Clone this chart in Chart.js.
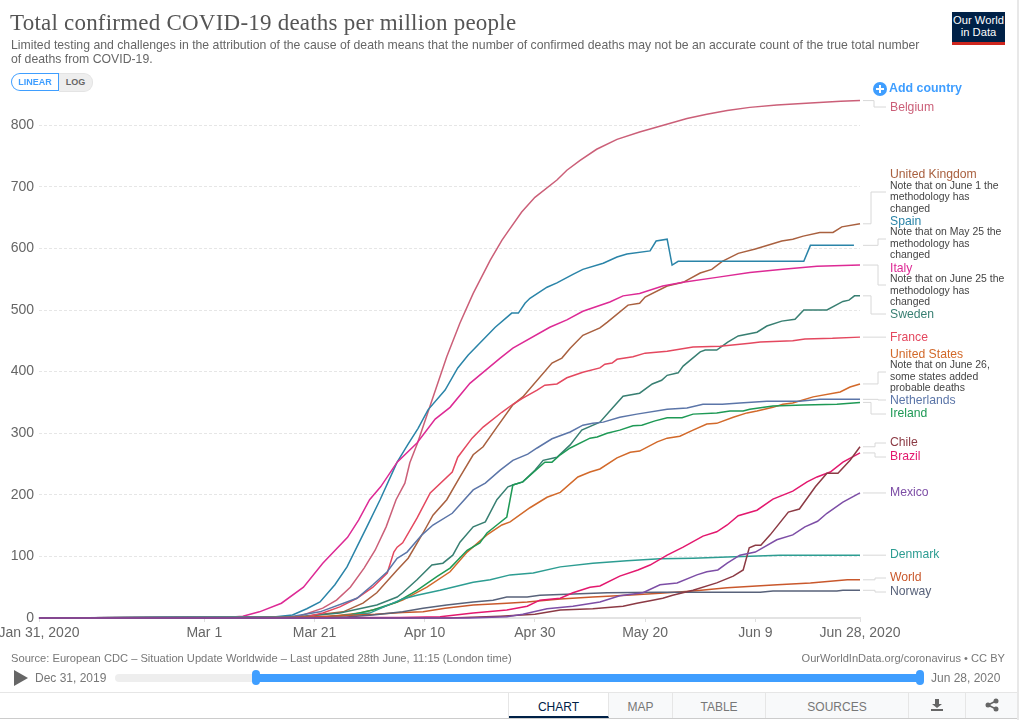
<!DOCTYPE html>
<html>
<head>
<meta charset="utf-8">
<title>Total confirmed COVID-19 deaths per million people</title>
<script src="https://cdn.jsdelivr.net/npm/chart.js@4"></script>
<style>
    html, body { margin: 0; padding: 0; background: #fff; }
    #page { position: relative; width: 1019px; height: 720px; overflow: hidden; font-family: "Liberation Sans", Arial, sans-serif; color: #666; }
    #page > div, #page > svg { position: absolute; white-space: nowrap; }
    canvas { position: absolute; left: 0; top: 0; }
    #title { left: 10px; top: 8px; font: 23px/30px "Liberation Serif", serif; color: #555; letter-spacing: 0.22px; }
    .subtitle { left: 11px; font-size: 12.26px; line-height: 14px; color: #666; }
    #logo { left: 952px; top: 12px; width: 53px; background: #002147; border-bottom: 3px solid #ce261e; color: #fff; font-size: 11.2px; line-height: 11.5px; text-align: center; padding-top: 3px; height: 27px; white-space: normal; }
    #btnLinear { left: 11px; top: 73px; width: 46px; height: 16px; border: 1px solid #3f9eff; border-right-width: 2px; border-radius: 9px 0 0 9px; color: #3f9eff; font-size: 9px; font-weight: bold; line-height: 17px; text-align: center; }
    #btnLog { left: 59px; top: 73px; width: 33px; height: 17px; background: #eee; border: 1px solid #e4e4e4; border-left: 0; border-radius: 0 9px 9px 0; font-size: 9px; font-weight: bold; line-height: 17px; text-align: center; color: #666; }
    #addCountry { left: 889px; top: 81px; color: #3f9eff; font-size: 12.4px; font-weight: bold; line-height: 15px; }
    .seriesLabel { font-size: 12.2px; line-height: 14px; transform: translateY(-50%); }
    .seriesNote { font-size: 10.45px; line-height: 11.6px; color: #444; transform: translateY(-50%); }
    #source { left: 11px; top: 651px; font-size: 11.15px; line-height: 14px; color: #777; }
    #license { right: 14px; top: 651px; font-size: 11.1px; line-height: 14px; color: #777; }
    .timeLabel { top: 671px; font-size: 12px; line-height: 14px; color: #777; }
    #track { left: 115px; top: 674px; width: 805px; height: 8px; border-radius: 4px; background: #eee; }
    #trackOn { left: 256px; top: 674px; width: 664px; height: 8px; background: #3f9eff; }
    .handle { top: 670px; width: 8px; height: 15px; border-radius: 4px; background: #3f9eff; }
    #tabs { left: 0; top: 692px; width: 1019px; height: 26px; border-bottom: 1px solid #ccc; }
    .tab { position: absolute; top: 0; height: 26px; box-sizing: border-box; background: #f8f9fa; border: 1px solid #e6e6e6; border-bottom: 0; border-left: 0; font-size: 12px; line-height: 28px; text-align: center; color: #777; }
    #edge { left: 1017px; top: 0; width: 2px; height: 720px; background: #e8e8e8; }
</style>
</head>
<body>
<div id="page">
    <canvas id="deathsChart" width="1019" height="720"></canvas>
    <div id="title">Total confirmed COVID-19 deaths per million people</div>
    <div class="subtitle" style="top:38px">Limited testing and challenges in the attribution of the cause of death means that the number of confirmed deaths may not be an accurate count of the true total number</div>
    <div class="subtitle" style="top:52px">of deaths from COVID-19.</div>
    <div id="logo">Our World<br>in Data</div>
    <div id="btnLinear">LINEAR</div>
    <div id="btnLog">LOG</div>
    <svg style="left:873px;top:82px" width="14" height="14" viewBox="0 0 14 14"><circle cx="7" cy="7" r="7" fill="#3f9eff"/><path d="M7 3v8M3 7h8" stroke="#fff" stroke-width="2"/></svg>
    <div id="addCountry">Add country</div>
    <div id="source">Source: European CDC – Situation Update Worldwide – Last updated 28th June, 11:15 (London time)</div>
    <div id="license">OurWorldInData.org/coronavirus • CC BY</div>
    <svg style="left:14px;top:670px" width="14" height="16" viewBox="0 0 14 16"><path d="M0 0L14 8L0 16Z" fill="#666"/></svg>
    <div class="timeLabel" style="left:35px">Dec 31, 2019</div>
    <div class="timeLabel" style="left:931px">Jun 28, 2020</div>
    <div id="track"></div>
    <div id="trackOn"></div>
    <div class="handle" style="left:252px"></div>
    <div class="handle" style="left:916px"></div>
    <div id="tabs">
        <div class="tab" style="left:0;width:509px;background:#fff;border-right:1px solid #e6e6e6"></div>
        <div class="tab" style="left:509px;width:100px;background:#fff;color:#002147;border-bottom:2px solid #002147;border-right:1px solid #e6e6e6">CHART</div>
        <div class="tab" style="left:609px;width:64px">MAP</div>
        <div class="tab" style="left:673px;width:93px">TABLE</div>
        <div class="tab" style="left:766px;width:143px">SOURCES</div>
        <div class="tab" style="left:909px;width:57px"><svg width="14" height="14" viewBox="0 0 14 14" style="margin-top:5px"><path d="M5 1h4v5h3L7 10 2 6h3zM1 11h12v2H1z" fill="#666"/></svg></div>
        <div class="tab" style="left:966px;width:53px"><svg width="14" height="14" viewBox="0 0 14 14" style="margin-top:5px"><path d="M3 7L11 3M3 7l8 4" stroke="#666" stroke-width="1.5"/><circle cx="3" cy="7" r="2.5" fill="#666"/><circle cx="11" cy="3" r="2.5" fill="#666"/><circle cx="11" cy="11" r="2.5" fill="#666"/></svg></div>
    </div>
    <div id="edge"></div>
</div>

<script>
// Days are counted from Jan 31, 2020 on the time axis
const xTickDays = [0, 30, 50, 70, 90, 110, 130, 149];
const xTickLabels = ["Jan 31, 2020", "Mar 1", "Mar 21", "Apr 10", "Apr 30", "May 20", "Jun 9", "Jun 28, 2020"];
const yTickValues = [0, 100, 200, 300, 400, 500, 600, 700, 800];

const belgiumDays = [0, 47, 51.5, 54, 56.5, 59, 61, 63, 64.8, 66.4, 67.3, 68.7, 71, 74, 76.4, 78.8, 81.9, 84, 85, 87.6, 90, 94, 95.8, 98.2, 101.2, 104.9, 109, 113.3, 117.6, 121.2, 124.9, 129, 133.9, 140, 145.5, 149];
const belgiumValues = [0, 2, 16, 29, 50, 81, 110, 148, 192, 219, 252, 284, 345, 424, 479, 527, 581, 613, 626, 659, 683, 711, 727, 743, 761, 777, 789, 800, 811, 818, 824, 829, 833, 836, 839, 840];

const ukDays = [0, 47.4, 55.2, 58.8, 61.3, 65, 67, 69.7, 71.5, 74, 76.4, 78.8, 80.6, 83.1, 86, 87.8, 93.1, 94.9, 96.4, 98.7, 101.8, 103.1, 106.9, 109, 110, 114, 116.9, 120, 122.1, 124, 126.9, 130, 134.8, 136.8, 138.7, 141.7, 144.1, 145.7, 149];
const ukValues = [0, 2, 10, 24, 41, 78, 97, 138, 167, 192, 229, 265, 278, 310, 346, 359, 414, 422, 438, 459, 471, 480, 508, 511, 521, 539, 545, 560, 566, 579, 592, 599, 612, 615, 620, 626, 626, 635, 640];

const spainDays = [0, 43, 46, 48.6, 51, 53.7, 55.9, 59.5, 61.9, 65, 66.9, 68.8, 70.6, 73.7, 76, 77.9, 82.8, 85.8, 87, 88.2, 89.1, 92.2, 94, 96.9, 98.7, 102.4, 104.9, 106.7, 110.9, 112, 114, 114.9, 116, 138.8, 140, 147.9];
const spainValues = [0, 2, 5, 15, 26, 54, 83, 148, 192, 253, 281, 308, 338, 370, 406, 427, 472, 495, 495, 511, 519, 537, 544, 558, 566, 576, 586, 591, 596, 612, 615, 573, 579, 579, 605, 605];

const italyDays = [0, 27, 33.8, 37, 40, 44, 48, 51.5, 56, 58, 60, 62, 65, 68.6, 71.9, 74.6, 78.2, 83.7, 86, 92.7, 95.8, 98.7, 103.6, 106, 109, 113.2, 116.9, 123, 129, 135, 141.2, 149];
const italyValues = [0, 0, 1, 3, 10, 24, 50, 89, 131, 159, 192, 213, 253, 284, 323, 342, 381, 422, 438, 472, 484, 498, 513, 523, 527, 539, 545, 553, 561, 566, 571, 573];

const swedenDays = [0, 47.4, 54.6, 61.3, 65, 66, 68.6, 71.3, 73.3, 75.1, 76.4, 78.8, 81, 83.1, 85.1, 86, 87.8, 90, 91.5, 94, 96.4, 98.5, 101.8, 104.2, 106, 109, 111.3, 113, 114, 116, 116.9, 120, 120.9, 123, 125, 126.9, 130.3, 132.1, 134.8, 137.2, 138.8, 143, 145.9, 147, 148, 149];
const swedenValues = [0, 2, 8, 21, 34, 41, 62, 86, 89, 102, 123, 148, 156, 192, 213, 216, 221, 240, 256, 261, 281, 305, 318, 342, 360, 365, 380, 386, 394, 398, 409, 432, 435, 435, 448, 458, 464, 474, 482, 485, 500, 500, 514, 516, 523, 523];

const franceDays = [0, 48.6, 51.5, 54.6, 57.7, 60.6, 63.2, 64.4, 65, 66, 68.6, 71, 75, 76, 78.6, 80.6, 84, 86, 87.8, 90.4, 91.8, 94, 95.8, 98.7, 101.8, 102.7, 104, 104.9, 107.8, 110, 114, 118.7, 123.6, 129, 130.9, 136.8, 139, 144, 149];
const franceValues = [0, 2, 8, 18, 32, 50, 73, 107, 115, 122, 162, 203, 237, 261, 292, 310, 334, 347, 357, 370, 378, 380, 390, 399, 406, 412, 414, 420, 424, 430, 433, 440, 441, 446, 448, 450, 453, 454, 456];

const usDays = [0, 51, 58.3, 61.9, 66, 70.4, 74.6, 77.7, 81.3, 84, 85.5, 89.1, 92.2, 94.6, 97.8, 100, 101.8, 104.9, 107.3, 109, 112.2, 114, 116.3, 118.7, 121.2, 123, 126, 128.5, 130.3, 133.2, 135, 136.8, 140.5, 145.4, 147.2, 149];
const usValues = [0, 1, 8, 16, 29, 50, 75, 107, 135, 151, 156, 179, 196, 204, 229, 237, 242, 260, 269, 271, 286, 292, 295, 305, 315, 316, 326, 333, 336, 342, 347, 349, 359, 367, 375, 380];

const netherlandsDays = [0, 45.6, 51, 57.7, 60.6, 63.2, 65, 66.8, 69.5, 71.5, 75, 78.8, 81, 83.7, 86, 88.7, 90.4, 93.1, 96.4, 98.7, 100.5, 102.4, 105.4, 108.5, 114, 117.6, 120.5, 124, 127.2, 132.1, 138, 141.7, 149];
const netherlandsValues = [0, 2, 10, 32, 54, 75, 97, 107, 135, 151, 170, 208, 219, 240, 256, 266, 276, 291, 302, 313, 316, 318, 326, 331, 339, 341, 347, 347, 349, 352, 352, 355, 355];

const irelandDays = [0, 51, 56.4, 60.6, 65, 68.6, 72.2, 74.6, 77.7, 80, 81.3, 83.1, 84.9, 86, 87.8, 91.8, 93.1, 94.6, 96.4, 100, 101.3, 103.1, 105.4, 107.8, 109.4, 111.8, 114, 116.7, 118.7, 123, 125.4, 127.8, 129, 133.2, 138.7, 144.8, 149];
const irelandValues = [0, 1, 5, 13, 26, 45, 67, 81, 110, 122, 138, 151, 164, 216, 221, 253, 253, 265, 276, 292, 294, 300, 305, 312, 313, 320, 325, 325, 331, 333, 336, 336, 339, 344, 346, 347, 350];

const chileDays = [0, 74.6, 83.7, 90, 94.6, 100.5, 106, 108.5, 110.9, 113.2, 115, 118.7, 123, 126, 127.8, 128.9, 130, 131, 132.7, 136, 138, 140.9, 143, 145, 147.2, 149];
const chileValues = [0, 0, 3, 6, 13, 15, 19, 24, 28, 32, 37, 45, 57, 68, 78, 114, 118, 118, 135, 172, 177, 213, 235, 235, 256, 278];

const brazilDays = [0, 65.5, 72.8, 78.8, 84.9, 88.6, 90.9, 94.6, 96.9, 100, 101.8, 105.4, 108.7, 110.9, 114, 116.9, 120.5, 123, 124.9, 126.9, 130.3, 133.2, 136.8, 139.4, 141.2, 143.6, 145.9, 149];
const brazilValues = [0, 1, 2, 8, 13, 19, 29, 32, 41, 50, 52, 68, 78, 86, 102, 115, 133, 140, 151, 166, 175, 193, 206, 221, 229, 237, 253, 268];

const mexicoDays = [0, 78, 84.9, 87.8, 92.2, 96.9, 101.8, 105.4, 109.6, 112.7, 115.8, 119.4, 121.2, 123.2, 124.9, 127.2, 130, 133.9, 136.8, 139, 141.3, 143, 145.9, 149];
const mexicoValues = [0, 0, 2, 6, 15, 19, 26, 36, 41, 54, 57, 70, 75, 78, 89, 102, 107, 127, 135, 148, 157, 170, 188, 203];

const denmarkDays = [0, 52.8, 60, 66, 68.6, 72.8, 78.8, 81.9, 85.5, 89.7, 94.6, 100.5, 106.7, 112.7, 118.7, 124.9, 134.5, 149];
const denmarkValues = [0, 2, 8, 31, 37, 45, 58, 62, 70, 73, 83, 89, 93, 96, 97, 99, 102, 102];

const worldDays = [0, 43.7, 50, 61, 66, 69.7, 73.7, 78.8, 84.9, 88.6, 94.6, 100.5, 106.7, 112.7, 118.7, 124.9, 134, 140, 146.7, 149];
const worldValues = [0, 1, 2, 6, 9, 10, 16, 21, 24, 26, 31, 34, 37, 40, 44, 49, 54, 57, 62, 62];

const norwayDays = [0, 54.6, 60.6, 66, 69.7, 74, 78.8, 82.4, 84.9, 88.6, 90.9, 103.1, 112.7, 130.9, 133.2, 144.8, 145.9, 149];
const norwayValues = [0, 1, 5, 10, 16, 21, 26, 29, 34, 34, 37, 41, 42, 42, 44, 44, 45, 45];

// Lines, colours and the labels in the right margin, first entry is drawn on top
const seriesList = [
    { name: "Mexico", days: mexicoDays, values: mexicoValues, color: "#7d4ea6", labelY: 492 },
    { name: "Chile", days: chileDays, values: chileValues, color: "#8c3a44", labelY: 442, lineY: 443, midX: 875 },
    { name: "Brazil", days: brazilDays, values: brazilValues, color: "#e3186e", labelY: 456, lineY: 457, midX: 875 },
    { name: "Norway", days: norwayDays, values: norwayValues, color: "#58627a", labelY: 591, lineY: 592, midX: 875 },
    { name: "World", days: worldDays, values: worldValues, color: "#c9582c", labelY: 577, lineY: 578, midX: 875 },
    { name: "Denmark", days: denmarkDays, values: denmarkValues, color: "#2d9d92", labelY: 554 },
    { name: "Ireland", days: irelandDays, values: irelandValues, color: "#1e9955", labelY: 413, lineY: 414, midX: 871 },
    { name: "Netherlands", days: netherlandsDays, values: netherlandsValues, color: "#5b75a8", labelY: 400, lineY: 400, midX: 878 },
    { name: "United States", days: usDays, values: usValues, color: "#d2692a", labelY: 354, lineY: 372, midX: 878,
      note: ["Note that on June 26,", "some states added", "probable deaths"], noteY: [365, 377, 388] },
    { name: "France", days: franceDays, values: franceValues, color: "#e4485f", labelY: 337 },
    { name: "Sweden", days: swedenDays, values: swedenValues, color: "#387f72", labelY: 314, lineY: 314, midX: 871 },
    { name: "Italy", days: italyDays, values: italyValues, color: "#dd2a95", labelY: 268, lineY: 285, midX: 878,
      note: ["Note that on June 25 the", "methodology has", "changed"], noteY: [279, 291, 302] },
    { name: "Spain", days: spainDays, values: spainValues, color: "#2a84a8", labelY: 221, lineY: 239, midX: 878,
      note: ["Note that on May 25 the", "methodology has", "changed"], noteY: [232, 244, 255] },
    { name: "United Kingdom", days: ukDays, values: ukValues, color: "#a9603f", labelY: 174, lineY: 192, midX: 871,
      note: ["Note that on June 1 the", "methodology has", "changed"], noteY: [186, 197, 209] },
    { name: "Belgium", days: belgiumDays, values: belgiumValues, color: "#cb5f78", labelY: 107, lineY: 107, midX: 874 }
];

// ✅ Add the right margin labels as normal text
function addSeriesLabels() {
    const page = document.getElementById("page");
    seriesList.forEach(series => {
        const label = document.createElement("div");
        label.className = "seriesLabel";
        label.textContent = series.name;
        label.style.left = "890px";
        label.style.top = series.labelY + "px";
        label.style.color = series.color;
        page.appendChild(label);
        (series.note || []).forEach((line, i) => {
            const note = document.createElement("div");
            note.className = "seriesNote";
            note.textContent = line;
            note.style.left = "890px";
            note.style.top = series.noteY[i] + "px";
            page.appendChild(note);
        });
    });
}

// ✅ Thin gray connectors from the line ends to the labels
const connectorPlugin = {
    id: "connectors",
    afterDatasetsDraw(chart) {
        const ctx = chart.ctx;
        const yScale = chart.scales.y;
        ctx.save();
        ctx.strokeStyle = "#d8d8d8";
        ctx.lineWidth = 1;
        seriesList.forEach(series => {
            const endY = yScale.getPixelForValue(series.values[series.values.length - 1]);
            const labelLineY = series.lineY || endY;
            const midX = series.midX || 875;
            ctx.beginPath();
            ctx.moveTo(863, endY);
            ctx.lineTo(midX, endY);
            ctx.lineTo(midX, labelLineY);
            ctx.lineTo(886, labelLineY);
            ctx.stroke();
        });
        ctx.restore();
    }
};

function renderDeathsChart() {
    const chartCanvas = document.getElementById("deathsChart").getContext("2d");

    new Chart(chartCanvas, {
        type: "line",
        data: {
            datasets: seriesList.map(series => ({
                label: series.name,
                data: series.days.map((day, i) => ({ x: day, y: series.values[i] })),
                borderColor: series.color,
                borderWidth: 1.5,
                pointRadius: 0,
                tension: 0,
                fill: false,
                clip: false
            }))
        },
        options: {
            responsive: false,
            animation: false,
            devicePixelRatio: 1,
            layout: { padding: { left: 0, right: 159, top: 100.6, bottom: 0 } },
            plugins: { legend: { display: false }, tooltip: { enabled: false } },
            scales: {
                x: {
                    type: "linear",
                    min: 0,
                    max: 149,
                    afterBuildTicks: axis => { axis.ticks = xTickDays.map(value => ({ value })); },
                    afterFit: axis => { axis.height = 102; axis.paddingLeft = 0; axis.paddingRight = 0; },
                    grid: { drawOnChartArea: false, drawTicks: true, tickLength: 4, color: "#e0e0e0" },
                    border: { color: "#e3e3e3", width: 2 },
                    ticks: {
                        autoSkip: false,
                        maxRotation: 0,
                        padding: 3,
                        color: "#666",
                        font: { family: "Liberation Sans", size: 14 },
                        callback: value => xTickLabels[xTickDays.indexOf(value)]
                    }
                },
                y: {
                    min: 0,
                    max: 840,
                    afterBuildTicks: axis => { axis.ticks = yTickValues.map(value => ({ value })); },
                    afterFit: axis => { axis.width = 39; },
                    grid: { drawTicks: false, color: "#e6e6e6" },
                    border: { display: false, dash: [3, 2] },
                    ticks: {
                        padding: 5,
                        color: "#666",
                        font: { family: "Liberation Sans", size: 14 }
                    }
                }
            }
        },
        plugins: [connectorPlugin]
    });
}

document.addEventListener("DOMContentLoaded", function () {
    addSeriesLabels();
    renderDeathsChart();
});
</script>
</body>
</html>
